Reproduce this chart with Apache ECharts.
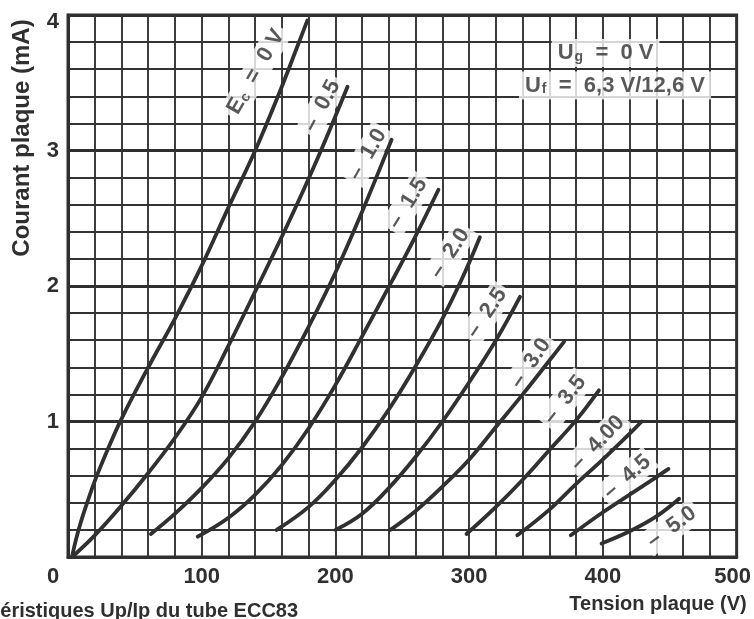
<!DOCTYPE html>
<html>
<head>
<meta charset="utf-8">
<script src="https://cdn.jsdelivr.net/npm/echarts@6/dist/echarts.min.js"></script>
<style>
html,body{margin:0;padding:0;background:#fff;}
#c{width:754px;height:619px;}
</style>
</head>
<body>
<div id="c"></div>
<script>
// ---------------- DATA ----------------
// Plate voltage (V) vs plate current (mA) for each grid voltage Ec
const gridVoltages = ['0', '-0.5', '-1.0', '-1.5', '-2.0', '-2.5', '-3.0', '-3.5', '-4.0', '-4.5', '-5.0'];
const ec0  = [[3,0],[6,0.13],[10,0.27],[15,0.42],[20,0.56],[30,0.80],[40,1.02],[60,1.40],[80,1.76],[100,2.15],[120,2.58],[140,3.0],[157,3.4],[172,3.78],[179,3.96]];
const ec05 = [[3,0],[20,0.16],[40,0.38],[60,0.62],[80,0.88],[100,1.18],[120,1.56],[140,1.96],[165,2.47],[187,2.95],[209,3.47]];
const ec10 = [[62,0.17],[80,0.32],[100,0.51],[120,0.73],[140,1.00],[160,1.33],[180,1.70],[200,2.10],[220,2.55],[242,3.08]];
const ec15 = [[97,0.15],[120,0.29],[140,0.46],[160,0.68],[180,0.95],[200,1.27],[220,1.63],[243,2.05],[260,2.37],[277,2.71]];
const ec20 = [[156,0.2],[180,0.37],[200,0.57],[220,0.81],[240,1.09],[260,1.41],[280,1.76],[294,2.04],[308,2.36]];
const ec25 = [[200,0.2],[220,0.32],[240,0.51],[260,0.74],[280,1.00],[300,1.29],[320,1.60],[338,1.92]];
const ec30 = [[241,0.2],[260,0.34],[280,0.52],[300,0.72],[320,0.96],[340,1.20],[360,1.45],[371,1.59]];
const ec35 = [[298,0.17],[320,0.37],[340,0.57],[360,0.79],[380,1.01],[397,1.23]];
const ec40 = [[336,0.16],[360,0.35],[380,0.54],[400,0.72],[420,0.91],[429,1.0]];
const ec45 = [[376,0.16],[400,0.33],[420,0.46],[440,0.59],[449,0.65]];
const ec50 = [[399,0.1],[420,0.19],[440,0.30],[457,0.43]];
const curves = [ec0, ec05, ec10, ec15, ec20, ec25, ec30, ec35, ec40, ec45, ec50];

// Curve labels (text)
const curveLabelTexts = ['{b|E}{s|c}{b|  =  0 V}', '{b|–  0.5}', '{b|–  1.0}', '{b|–  1.5}', '{b|–  2.0}', '{b|–  2.5}',
                         '{b|–  3.0}', '{b|–  3.5}', '{b|–  4.00}', '{b|–  4.5}', '{b|–  5.0}'];
const infoTexts = ['{b|U}{s|g}{b|  =  0 V}', '{b|U}{s|f}{b|  =  6,3 V/12,6 V}'];

// Tick labels
const xTickLabels = ['0', '100', '200', '300', '400', '500'];
const yTickLabels = ['1', '2', '3', '4'];

const xTitle = 'Tension plaque (V)';
const yTitle = 'Courant plaque (mA)';
const caption = 'Caractéristiques Up/Ip du tube ECC83';

// ---------------- LAYOUT / STYLE ----------------
// anchor of each curve label in data coordinates, plus angle (deg)
const curveLabelAnchor = [[140.5,3.58],[190,3.33],[224,2.97],[254,2.61],[285.5,2.24],[313,1.80],[346,1.43],[371.5,1.16],[396,0.84],[418,0.59],[451.4,0.22]];
const curveLabelAngle  = [60, 62, 60, 58, 57, 56, 56, 52, 46, 41, 36];
const infoAnchor = [[402,3.72],[409,3.48]];

const FONT = '"Liberation Sans", Arial, Helvetica, sans-serif';
const INK = '#2f2f2f';
const richStyles = {
  b: {fontFamily: FONT, fontWeight: 'bold', fontSize: 22, color: INK, lineHeight: 22, verticalAlign: 'middle'},
  s: {fontFamily: FONT, fontWeight: 'bold', fontSize: 14, color: INK, lineHeight: 14, padding: [13,0,0,1], verticalAlign: 'bottom'}
};

const chart = echarts.init(document.getElementById('c'), null, {renderer: 'canvas'});

const lineSeries = curves.map((d, i) => ({
  type: 'line',
  name: 'Ec = ' + gridVoltages[i] + ' V',
  data: d,
  smooth: 0.4,
  symbol: 'none',
  z: 3,
  lineStyle: {color: '#303030', width: 3.8, cap: 'round', join: 'round'}
}));

const labelData = curveLabelTexts.map((t, i) => ({
  value: curveLabelAnchor[i],
  label: {formatter: t, rotate: curveLabelAngle[i]}
}));
const infoData = infoTexts.map((t, i) => ({
  value: infoAnchor[i],
  label: {formatter: t, rotate: 0, padding: [3, 6, 3, 6]}
}));

const isNear = (v, n) => Math.abs(v - n) < 1e-6;

chart.setOption({
  animation: false,
  backgroundColor: '#ffffff',
  grid: {left: 68, right: 17, top: 15, bottom: 62, show: true, borderWidth: 3, borderColor: '#2f2f2f', backgroundColor: 'transparent'},
  xAxis: {
    type: 'value', min: 0, max: 500, interval: 20,
    axisLine: {show: true, onZero: false, lineStyle: {color: '#2f2f2f', width: 3}},
    axisTick: {show: false},
    splitLine: {show: true, lineStyle: {color: '#333', width: 1.9}},
    axisLabel: {
      margin: 9,
      formatter: v => {
        for (const t of xTickLabels) {
          if (isNear(v, +t)) {
            if (t === '0') return '{z|' + t + '}';
            if (t === '500') return '{e|' + t + '}';
            return '{n|' + t + '}';
          }
        }
        return '';
      },
      rich: {
        n: {fontFamily: FONT, fontWeight: 'bold', fontSize: 22, color: INK},
        z: {fontFamily: FONT, fontWeight: 'bold', fontSize: 22, color: INK, padding: [0, 30, 0, 0]},
        e: {fontFamily: FONT, fontWeight: 'bold', fontSize: 22, color: INK, padding: [0, 8, 0, 0]}
      }
    }
  },
  yAxis: [{
    type: 'value', min: 0, max: 4, interval: 0.2,
    axisLine: {show: true, onZero: false, lineStyle: {color: '#2f2f2f', width: 3}},
    axisTick: {show: false},
    splitLine: {show: true, lineStyle: {color: '#333', width: 1.9}},
    axisLabel: {
      margin: 9,
      formatter: v => {
        for (const t of yTickLabels) {
          if (isNear(v, +t)) return t === '4' ? '{t|' + t + '}' : '{n|' + t + '}';
        }
        return '';
      },
      rich: {
        n: {fontFamily: FONT, fontWeight: 'bold', fontSize: 22, color: INK},
        t: {fontFamily: FONT, fontWeight: 'bold', fontSize: 22, color: INK, padding: [14, 0, 0, 0]}
      }
    }
  }, {
    type: 'value', min: 0, max: 4, interval: 1, position: 'right',
    axisLine: {show: false}, axisTick: {show: false}, axisLabel: {show: false},
    splitLine: {show: true, lineStyle: {color: '#2f2f2f', width: 3}}
  }],
  series: lineSeries.concat([{
    type: 'scatter',
    z: 1,
    symbolSize: 1,
    itemStyle: {color: 'rgba(0,0,0,0)'},
    silent: true,
    data: labelData.concat(infoData),
    label: {
      show: true, position: 'inside',
      backgroundColor: '#ffffff', padding: [2, 4, 2, 4],
      rich: richStyles
    }
  }]),
  graphic: [
    {type: 'text', x: 22, y: 138, rotation: Math.PI / 2, z: 10,
     style: {text: yTitle, font: 'bold 24px ' + FONT, fill: INK, textAlign: 'center', textVerticalAlign: 'middle', align: 'center', verticalAlign: 'middle'}},
    {type: 'text', x: 658, y: 604, z: 10,
     style: {text: xTitle, font: 'bold 20px ' + FONT, fill: INK, textAlign: 'center', textVerticalAlign: 'middle', align: 'center', verticalAlign: 'middle'}},
    {type: 'text', x: -62, y: 601, z: 10,
     style: {text: caption, font: 'bold 20px ' + FONT, fill: INK, textAlign: 'left', textVerticalAlign: 'top', align: 'left', verticalAlign: 'top'}}
  ]
});
</script>
</body>
</html>
